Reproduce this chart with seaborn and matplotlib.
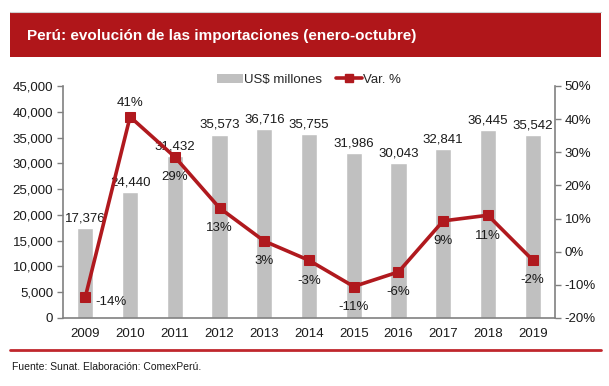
import numpy as np
import pandas as pd
import matplotlib
matplotlib.use("Agg")
import matplotlib.pyplot as plt
import seaborn as sns
from matplotlib.patches import Rectangle
from matplotlib.lines import Line2D

years = ["2009", "2010", "2011", "2012", "2013", "2014", "2015", "2016", "2017", "2018", "2019"]
imports = [17376, 24440, 31432, 35573, 36716, 35755, 31986, 30043, 32841, 36445, 35542]
var_pct = [-13.6, 40.7, 28.6, 13.2, 3.2, -2.6, -10.5, -6.1, 9.3, 11.0, -2.5]
var_labels = ["-14%", "41%", "29%", "13%", "3%", "-3%", "-11%", "-6%", "9%", "11%", "-2%"]
left_ticks = [0, 5000, 10000, 15000, 20000, 25000, 30000, 35000, 40000, 45000]
right_ticks = [-20, -10, 0, 10, 20, 30, 40, 50]

sns.set_theme(style="white")
plt.rcParams['font.family'] = ['Liberation Sans', 'DejaVu Sans']

BAR = "#C0C0C0"
RED = "#B0191E"
SPINE = "#808080"
TXT = "#1a1a1a"

fig = plt.figure(figsize=(6.09, 3.86), dpi=100)

# banner
fig.patches.append(Rectangle((10/609, 1-57/386), 591/609, 45/386, transform=fig.transFigure,
                             facecolor="#B0161A", edgecolor="none", zorder=0))
fig.add_artist(Line2D([10/609, 601/609], [1-12/386, 1-12/386], transform=fig.transFigure,
                      color="#d0d0d0", lw=0.8))
fig.text(27/609, 1-36/386, "Perú: evolución de las importaciones (enero-octubre)", color="white",
         fontsize=11, fontweight="bold", va="center", ha="left")

ax = fig.add_axes([63/609, 1-318/386, 492/609, 232/386])
df = pd.DataFrame({"year": years, "imports": imports, "var": var_pct})
sns.barplot(data=df, x="year", y="imports", color=BAR, width=0.36, ax=ax, saturation=1, zorder=2)
ax.set_ylim(0, 45000)
ax.set_xlim(-0.5, len(years) - 0.5)
ax.set_yticks(left_ticks)
ax.set_yticklabels([f"{v:,}" for v in left_ticks])
ax.set_xlabel("")
ax.set_ylabel("")
ax.set_xticks(np.arange(-0.5, len(years)), minor=True)
ax.tick_params(axis="x", which="major", length=0, pad=7, labelsize=9.5, labelcolor=TXT)
ax.tick_params(axis="x", which="minor", length=4, color=SPINE, width=1, direction="out")
ax.tick_params(axis="y", length=4, color=SPINE, width=1, direction="out", labelsize=9.5, labelcolor=TXT, pad=3)
for s in ["top", "right"]:
    ax.spines[s].set_visible(False)
for s in ["left", "bottom"]:
    ax.spines[s].set_color(SPINE)
    ax.spines[s].set_linewidth(1.2)

for i, v in enumerate(imports):
    ax.text(i, v + 700, f"{v:,}", ha="center", va="bottom", fontsize=9.5, color=TXT, zorder=5)

ax2 = ax.twinx()
ax2.set_position(ax.get_position())
sns.lineplot(x=np.arange(len(years)), y=var_pct, ax=ax2, color=RED, lw=2.6, marker="s",
             markersize=7, markeredgecolor=RED, zorder=4)
ax2.set_ylim(-20, 50)
ax2.set_yticks(right_ticks)
ax2.set_yticklabels([f"{v}%" for v in right_ticks])
ax2.tick_params(axis="y", length=4, color=SPINE, width=1, direction="out", labelsize=9.5, labelcolor=TXT, pad=3)
for s in ["top", "left", "bottom"]:
    ax2.spines[s].set_visible(False)
ax2.spines["right"].set_color(SPINE)
ax2.spines["right"].set_linewidth(1.2)
ax2.set_ylabel("")

for i, (v, lab) in enumerate(zip(var_pct, var_labels)):
    if i == 0:
        ax2.text(i + 0.22, v - 1.5, lab, ha="left", va="center", fontsize=9.5, color=TXT)
    elif i == 1:
        ax2.text(i, v + 2.5, lab, ha="center", va="bottom", fontsize=9.5, color=TXT)
    else:
        ax2.text(i, v - 4.3, lab, ha="center", va="top", fontsize=9.5, color=TXT)

handles = [Rectangle((0, 0), 1, 1, facecolor=BAR, edgecolor="none"),
           Line2D([0], [0], color=RED, lw=2.6, marker="s", markersize=6)]
fig.legend(handles, ["US$ millones", "Var. %"], loc="center", bbox_to_anchor=(309/609, 1-80/386),
           ncol=2, frameon=False, fontsize=9.5, handlelength=2.0, handletextpad=0.1, columnspacing=1.0)

fig.add_artist(Line2D([10/609, 601/609], [1-350/386, 1-350/386], transform=fig.transFigure,
                      color="#C0272D", lw=2))
fig.text(12/609, 1-367/386, "Fuente: Sunat. Elaboración: ComexPerú.", fontsize=7.5, color=TXT,
         va="center", ha="left")

fig.savefig("out.png", dpi=100)
